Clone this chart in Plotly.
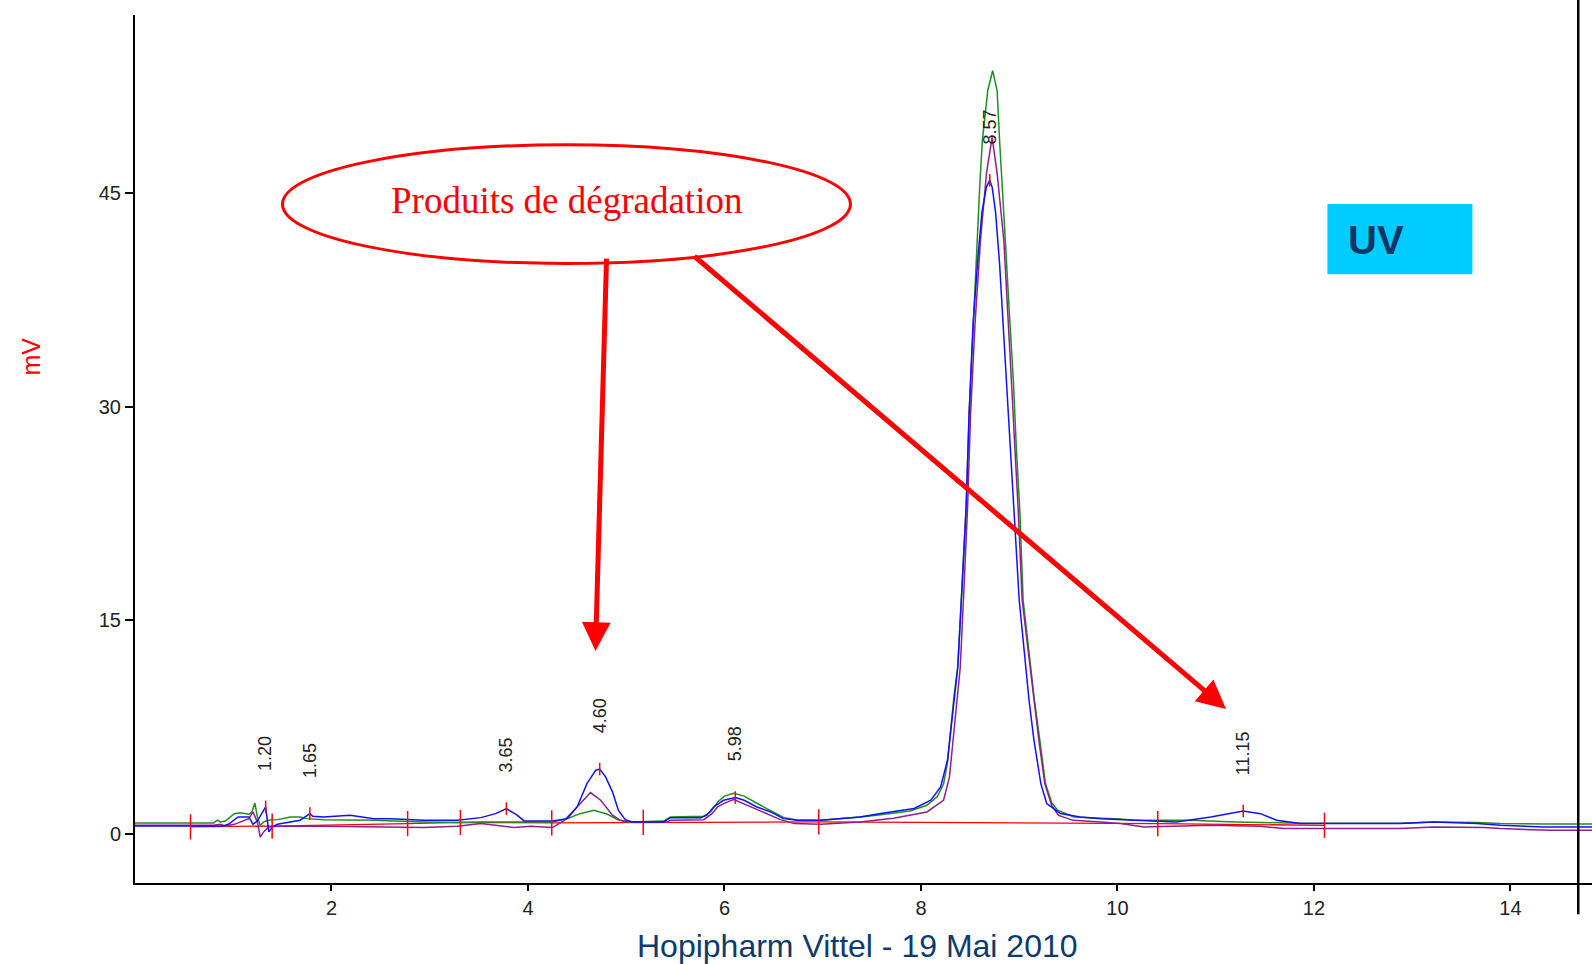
import plotly.graph_objects as go

# Chromatogram traces (retention time in min, signal in mV)
green_t = [0.00, 0.80, 0.84, 0.87, 0.92, 1.01, 1.07, 1.16, 1.19, 1.22, 1.245, 1.275, 1.31, 1.36, 1.45,
           1.58, 1.68, 1.75, 1.92, 2.43, 2.94, 3.28, 3.52, 4.25, 4.40, 4.53, 4.67, 4.81, 4.91, 5.01,
           5.38, 5.45, 5.79, 5.86, 5.93, 6.00, 6.095, 6.20, 6.33, 6.47, 6.60, 6.74, 6.98, 7.38, 7.55,
           7.89, 8.06, 8.165, 8.23, 8.27, 8.30, 8.335, 8.375, 8.42, 8.46, 8.49, 8.53, 8.575, 8.60,
           8.625, 8.68, 8.73, 8.775, 8.80, 8.826, 8.86, 8.90, 8.94, 8.97, 9.006, 9.04, 9.097, 9.155,
           9.21, 9.267, 9.33, 9.39, 9.555, 9.83, 10.03, 10.17, 10.74, 11.20, 11.86, 12.88, 13.22,
           13.66, 13.90, 14.34, 14.835]
green_mv = [0.77, 0.77, 0.96, 0.84, 0.90, 1.42, 1.48, 1.38, 1.54, 2.17, 1.19, 0.60, 0.84, 0.96, 1.00,
            1.19, 1.19, 1.07, 1.00, 0.96, 0.84, 0.80, 0.84, 0.84, 1.07, 1.42, 1.66, 1.38, 1.00, 0.84,
            0.90, 1.19, 1.24, 1.55, 2.24, 2.65, 2.85, 2.65, 2.15, 1.60, 1.15, 0.98, 0.95, 1.19, 1.31,
            1.61, 2.01, 2.60, 3.50, 5.00, 7.27, 9.60, 11.8, 17.6, 23.0, 29.5, 35.8, 42.0, 45.7,
            48.7, 52.2, 53.6, 52.2, 48.7, 45.2, 41.5, 36.5, 31.9, 27.2, 22.7, 16.4, 12.9, 9.38,
            6.57, 3.53, 2.20, 1.66, 1.19, 1.12, 1.05, 0.96, 0.96, 0.84, 0.75, 0.75, 0.84,
            0.80, 0.72, 0.70, 0.70]

purple_t = [0.00, 0.80, 0.87, 0.92, 1.01, 1.07, 1.16, 1.20, 1.245, 1.275, 1.31, 1.36, 1.45, 1.92,
            2.60, 2.94, 3.28, 3.52, 3.86, 4.03, 4.25, 4.37, 4.50, 4.636, 4.74, 4.86, 4.94, 5.04,
            5.42, 5.45, 5.79, 5.87, 5.93, 6.03, 6.095, 6.23, 6.40, 6.57, 6.71, 6.98, 7.38, 7.72,
            8.06, 8.23, 8.29, 8.32, 8.37, 8.40, 8.44, 8.475, 8.505, 8.55, 8.606, 8.667, 8.724,
            8.775, 8.843, 8.88, 8.92, 8.955, 8.99, 9.03, 9.09, 9.145, 9.20, 9.26, 9.33, 9.40, 9.55,
            9.83, 10.03, 10.27, 10.74, 10.95, 11.45, 11.69, 12.88, 13.22, 13.73, 13.90, 14.40, 14.835]
purple_mv = [0.60, 0.60, 0.67, 0.55, 0.67, 0.84, 1.07, 1.54, 0.84, -0.22, 0.14, 0.49, 0.53, 0.53,
             0.49, 0.45, 0.53, 0.72, 0.44, 0.53, 0.44, 0.95, 1.89, 2.90, 2.36, 1.31, 0.95, 0.84,
             0.84, 0.96, 1.00, 1.40, 1.89, 2.25, 2.41, 2.01, 1.54, 1.00, 0.72, 0.67, 0.84, 1.10,
             1.54, 2.36, 4.00, 6.10, 9.60, 11.7, 17.6, 23.0, 29.5, 35.8, 41.7, 46.4, 48.9,
             46.4, 41.7, 36.5, 31.9, 27.2, 22.7, 16.4, 12.9, 9.38, 6.57, 3.53, 2.00, 1.30, 0.95,
             0.84, 0.72, 0.49, 0.53, 0.60, 0.53, 0.37, 0.37, 0.49, 0.45, 0.37, 0.25, 0.25]

blue_t = [0.00, 0.90, 0.95, 1.01, 1.05, 1.16, 1.20, 1.245, 1.33, 1.362, 1.40, 1.45, 1.58, 1.68, 1.78,
          1.81, 1.92, 2.19, 2.43, 2.60, 2.94, 3.28, 3.52, 3.67, 3.78, 3.89, 3.96, 4.25, 4.40, 4.50,
          4.60, 4.69, 4.73, 4.79, 4.86, 4.92, 4.99, 5.06, 5.38, 5.45, 5.76, 5.82, 5.89, 5.99, 6.11,
          6.20, 6.33, 6.47, 6.60, 6.74, 6.98, 7.38, 7.59, 7.93, 8.10, 8.20, 8.27, 8.32, 8.375, 8.42,
          8.46, 8.49, 8.53, 8.58, 8.62, 8.665, 8.70, 8.725, 8.76, 8.80, 8.83, 8.86, 8.89, 8.92, 8.95,
          8.96, 9.00, 9.05, 9.10, 9.15, 9.22, 9.28, 9.42, 9.62, 9.83, 10.17, 10.60, 10.95, 11.28,
          11.455, 11.62, 11.86, 12.88, 13.22, 13.66, 13.90, 14.34, 14.835]
blue_mv = [0.55, 0.55, 0.67, 0.96, 1.19, 1.19, 0.67, 0.90, 1.89, 0.14, 0.49, 0.67, 0.84, 0.96, 1.42,
           1.24, 1.19, 1.30, 1.07, 1.07, 0.96, 0.96, 1.14, 1.42, 1.77, 1.31, 0.91, 0.91, 1.07, 1.89,
           3.53, 4.47, 4.55, 4.00, 2.95, 1.66, 1.00, 0.84, 0.84, 1.14, 1.14, 1.31, 1.89, 2.36, 2.55,
           2.36, 1.89, 1.54, 1.07, 0.95, 0.95, 1.19, 1.43, 1.78, 2.36, 3.29, 5.17, 8.21, 11.72, 17.58,
           23.0, 29.5, 35.8, 40.5, 43.6, 45.4, 45.9, 45.4, 43.6, 40.05, 36.5, 32.8, 29.5, 26.0, 22.7,
           21.1, 16.4, 12.9, 9.38, 6.57, 3.53, 2.13, 1.43, 1.19, 1.07, 0.96, 0.84, 1.19, 1.61,
           1.42, 0.96, 0.72, 0.72, 0.84, 0.72, 0.60, 0.49, 0.49]

# Integration baseline with its start/end points
baseline_t = [0.565, 1.396, 2.775, 3.312, 4.242, 5.173, 6.96, 10.41, 12.107]
baseline_mv = [0.49, 0.55, 0.72, 0.80, 0.77, 0.80, 0.84, 0.72, 0.60]

# Detected peaks: reported retention time and apex height
peak_rt = [1.20, 1.65, 3.65, 4.60, 5.98, 8.57, 11.15]
peak_apex_mv = [1.89, 1.42, 1.77, 4.55, 2.55, 45.9, 1.61]
time_shift = 0.13  # detector delay between reported and plotted time

x_ticks = [2, 4, 6, 8, 10, 12, 14]
y_ticks = [0, 15, 30, 45]

RED = "#ff0000"
NARROW = "Liberation Sans Narrow, Arial Narrow, Liberation Sans, Arial, sans-serif"

fig = go.Figure()

fig.add_trace(go.Scatter(x=baseline_t, y=baseline_mv, mode="lines",
                         line=dict(color=RED, width=1.3), hoverinfo="skip"))
fig.add_trace(go.Scatter(x=green_t, y=green_mv, mode="lines",
                         line=dict(color="#1f8f1f", width=1.5)))
fig.add_trace(go.Scatter(x=purple_t, y=purple_mv, mode="lines",
                         line=dict(color="#8e1f8e", width=1.5)))
fig.add_trace(go.Scatter(x=blue_t, y=blue_mv, mode="lines",
                         line=dict(color="#1010ff", width=1.5)))

# integration boundary marks
fig.add_trace(go.Scatter(x=baseline_t, y=baseline_mv, mode="markers",
                         marker=dict(symbol="line-ns", size=18,
                                     line=dict(color=RED, width=1.5))))
# apex marks
apex_t = [rt + time_shift for rt in peak_rt]
fig.add_trace(go.Scatter(x=apex_t, y=peak_apex_mv, mode="markers",
                         marker=dict(symbol="line-ns", size=9,
                                     line=dict(color=RED, width=1.5))))

annotations = []
for rt, t, h in zip(peak_rt, apex_t, peak_apex_mv):
    annotations.append(dict(x=t, y=h, xref="x", yref="y", text=f"{rt:.2f}",
                            showarrow=False, textangle=-90, xanchor="center",
                            yanchor="bottom", yshift=34,
                            font=dict(family=NARROW, size=18, color="#222222")))

# label bubble and arrows
annotations.append(dict(x=4.392, y=44.45, xref="x", yref="y", text="Produits de dégradation",
                        showarrow=False, xanchor="center", yanchor="middle",
                        font=dict(family="Liberation Serif, Times New Roman, serif",
                                  size=37, color=RED)))
annotations.append(dict(x=4.687, y=12.84, xref="x", yref="y", ax=4.800, ay=40.50,
                        axref="x", ayref="y", text="", showarrow=True,
                        arrowhead=2, arrowsize=1.15, arrowwidth=5, arrowcolor=RED, standoff=0))
annotations.append(dict(x=11.105, y=8.77, xref="x", yref="y", ax=5.678, ay=40.65,
                        axref="x", ayref="y", text="", showarrow=True,
                        arrowhead=2, arrowsize=1.15, arrowwidth=5, arrowcolor=RED, standoff=0))

annotations.append(dict(x=12.636, y=41.69, xref="x", yref="y", text="<b>UV</b>",
                        showarrow=False, xanchor="center", yanchor="middle",
                        font=dict(family="Liberation Sans, Arial, sans-serif", size=40,
                                  color="#0f3566")))

annotations.append(dict(x=-0.0717, y=0.606, xref="paper", yref="paper", text="mV",
                        showarrow=False, textangle=-90, xanchor="center", yanchor="middle",
                        font=dict(family="Liberation Sans, Arial, sans-serif", size=25, color=RED)))

annotations.append(dict(x=0.496, y=-0.0726, xref="paper", yref="paper",
                        text="Hopipharm Vittel - 19 Mai 2010", showarrow=False,
                        xanchor="center", yanchor="middle",
                        font=dict(family="Liberation Sans, Arial, sans-serif", size=32,
                                  color="#0d3b6e")))

shapes = [
    dict(type="circle", xref="x", yref="y", x0=1.501, x1=7.282, y0=40.05, y1=48.39,
         line=dict(color=RED, width=3)),
    dict(type="rect", xref="x", yref="y", x0=12.137, x1=13.613, y0=39.30, y1=44.22,
         fillcolor="#00ccff", line=dict(width=0), layer="below"),
    dict(type="line", xref="x", yref="paper", x0=14.69, x1=14.69, y0=-0.036, y1=1.02,
         line=dict(color="black", width=2.5)),
]

fig.update_layout(
    width=1592, height=964,
    margin=dict(l=135, r=0, t=15, b=81),
    paper_bgcolor="white", plot_bgcolor="white",
    showlegend=False,
    annotations=annotations,
    shapes=shapes,
    xaxis=dict(range=[0, 14.83], tickvals=x_ticks, ticktext=[str(v) for v in x_ticks],
               showgrid=False, zeroline=False, showline=True, linecolor="black", linewidth=2,
               ticks="outside", ticklen=6, tickwidth=1.5, tickcolor="black",
               tickfont=dict(family=NARROW, size=20, color="#222222")),
    yaxis=dict(range=[-3.45, 57.5], tickvals=y_ticks, ticktext=[str(v) for v in y_ticks],
               showgrid=False, zeroline=False, showline=True, linecolor="black", linewidth=2,
               ticks="outside", ticklen=8, tickwidth=1.5, tickcolor="black",
               tickfont=dict(family=NARROW, size=20, color="#222222")),
)

fig.write_html("out.html")
